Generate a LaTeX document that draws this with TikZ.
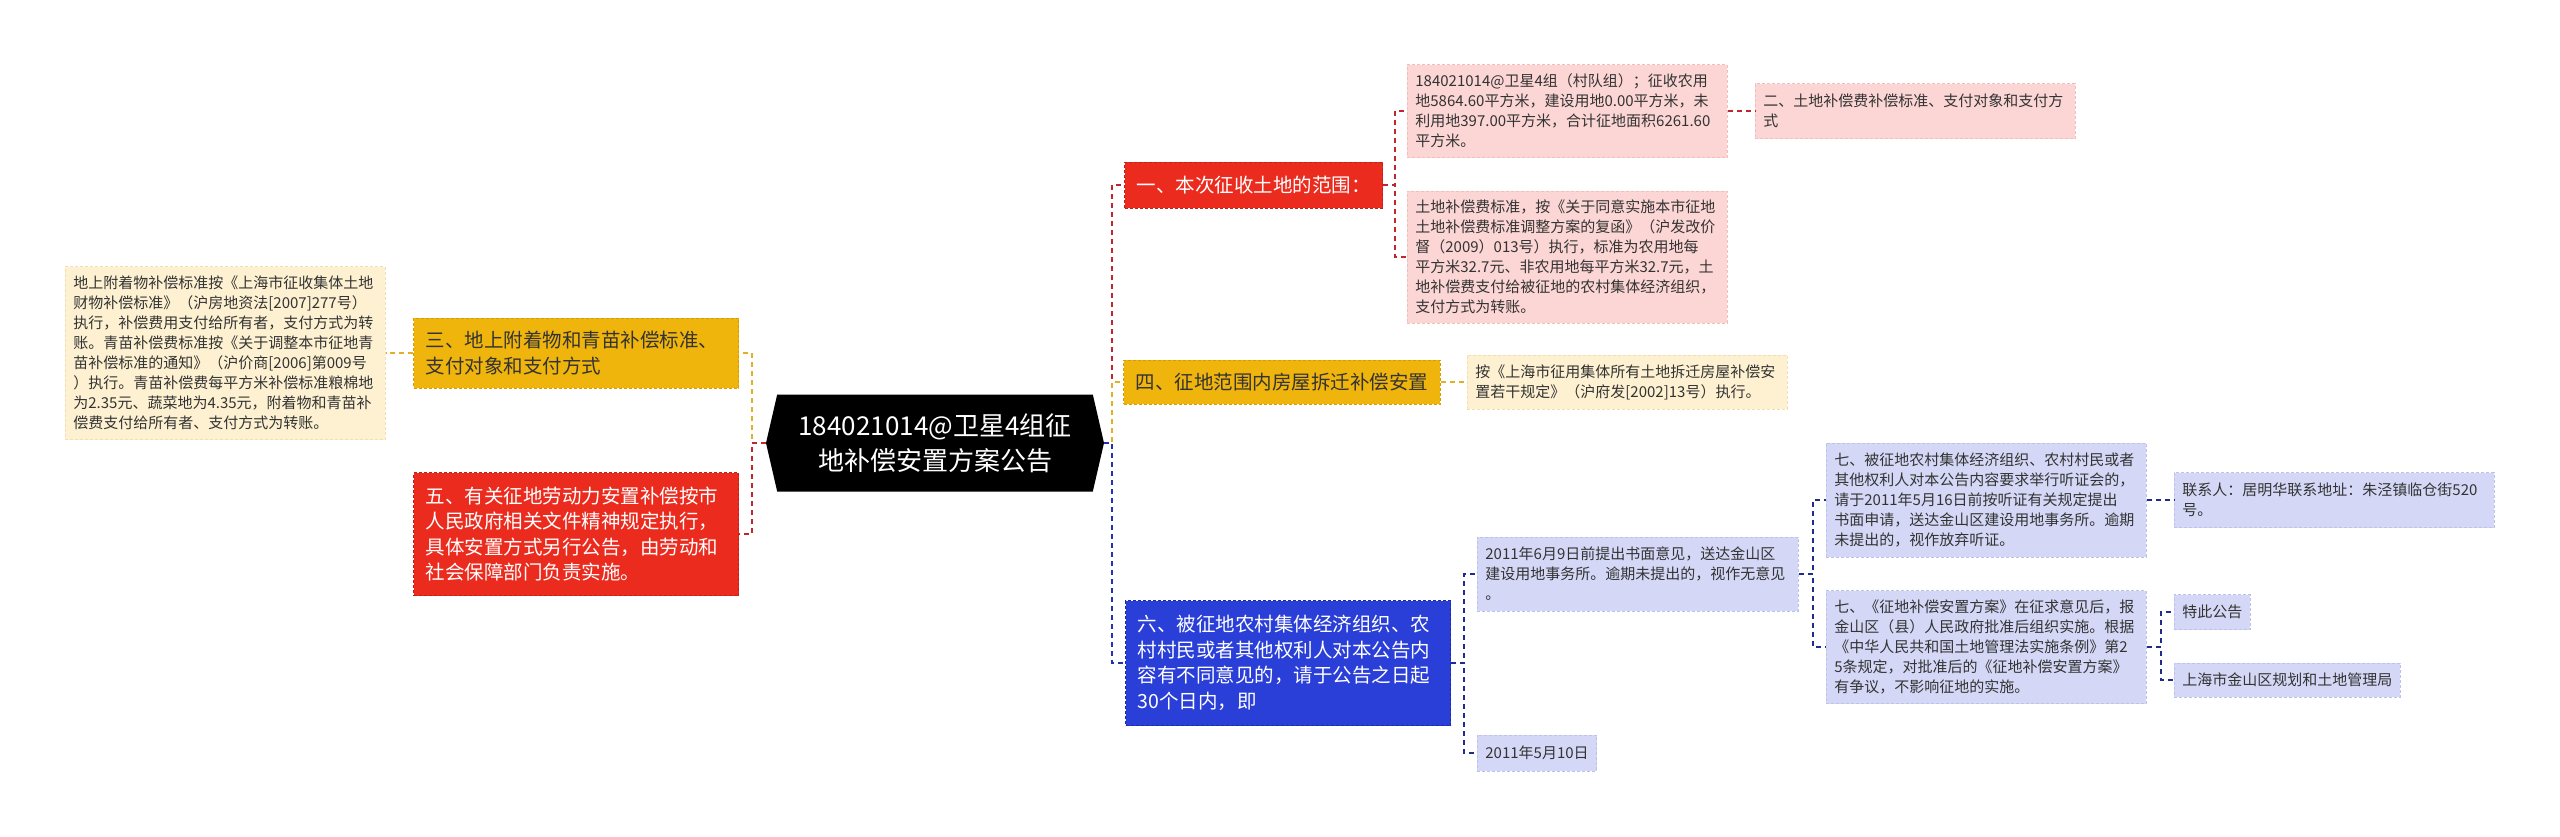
\documentclass[tikz,border=0pt]{standalone}
\usepackage{fontspec}
\setmainfont{Noto Sans CJK SC}
\usetikzlibrary{shapes.symbols}

\definecolor{redfill}{HTML}{EC2B1F}
\definecolor{rededge}{HTML}{C41E16}
\definecolor{redwire}{HTML}{BE272C}
\definecolor{yelfill}{HTML}{F0B50C}
\definecolor{yeledge}{HTML}{D49E00}
\definecolor{yelwire}{HTML}{E0B026}
\definecolor{bluefill}{HTML}{2A3ED8}
\definecolor{blueedge}{HTML}{1A2AA8}
\definecolor{navywire}{HTML}{1F2C8C}
\definecolor{pinkfill}{HTML}{FCD6D5}
\definecolor{pinkedge}{HTML}{F2BDBD}
\definecolor{creamfill}{HTML}{FDF1D2}
\definecolor{creamedge}{HTML}{F1DFB2}
\definecolor{lavfill}{HTML}{D4D8F6}
\definecolor{lavedge}{HTML}{BCC2EC}
\definecolor{leaftext}{HTML}{333333}

\begin{document}
\begin{tikzpicture}[x=1pt, y=-1pt,
    every node/.style={align=left, inner ysep=0pt},
    rootbox/.style={shape=signal, signal to=east and west, signal pointer angle=154,
        fill=black, text=white, align=center, minimum width=338pt, minimum height=97pt,
        font=\fontsize{26pt}{35pt}\selectfont},
    mainbox/.style={inner xsep=12pt, line width=1pt, dash pattern=on 3pt off 2pt,
        font=\fontsize{19.5pt}{25.5pt}\selectfont},
    mainred/.style={mainbox, fill=redfill, draw=rededge, text=white},
    mainyel/.style={mainbox, fill=yelfill, draw=yeledge, text=leaftext},
    mainblue/.style={mainbox, fill=bluefill, draw=blueedge, text=white},
    leaf/.style={inner xsep=8pt, line width=0.8pt, dash pattern=on 3pt off 2pt, text=leaftext,
        font=\fontsize{15pt}{20pt}\selectfont},
    leafpink/.style={leaf, fill=pinkfill, draw=pinkedge},
    leafcream/.style={leaf, fill=creamfill, draw=creamedge},
    leaflav/.style={leaf, fill=lavfill, draw=lavedge},
    wire/.style={line width=2pt, dash pattern=on 5pt off 4pt},
    redlink/.style={wire, draw=redwire},
    yellink/.style={wire, draw=yelwire},
    bluelink/.style={wire, draw=bluefill!80!black},
    navylink/.style={wire, draw=navywire}]
    \useasboundingbox (0,0) rectangle (2560,836);

    % Root
    \node[rootbox] (root) at (935,443) {184021014@卫星4组征\\地补偿安置方案公告};

    % Left branch
    \node[mainyel, anchor=west, text width=301pt, minimum height=70pt] (three) at (413,353)
        {三、地上附着物和青苗补偿标准、\\支付对象和支付方式};
    \node[mainred, anchor=west, text width=301pt, minimum height=123pt] (five) at (413,534)
        {五、有关征地劳动力安置补偿按市\\人民政府相关文件精神规定执行，\\具体安置方式另行公告，由劳动和\\社会保障部门负责实施。};
    \node[leafcream, anchor=west, text width=304pt, minimum height=173pt] (attach) at (65,353)
        {地上附着物补偿标准按《上海市征收集体土地\\财物补偿标准》（沪房地资法[2007]277号）\\执行，补偿费用支付给所有者，支付方式为转\\账。青苗补偿费标准按《关于调整本市征地青\\苗补偿标准的通知》（沪价商[2006]第009号\\）执行。青苗补偿费每平方米补偿标准粮棉地\\为2.35元、蔬菜地为4.35元，附着物和青苗补\\偿费支付给所有者、支付方式为转账。};

    % Right branch: section one
    \node[mainred, anchor=west, minimum height=46pt] (one) at (1124,185) {一、本次征收土地的范围：};
    \node[leafpink, anchor=west, text width=304pt, minimum height=93pt] (area) at (1407,111)
        {184021014@卫星4组（村队组）；征收农用\\地5864.60平方米，建设用地0.00平方米，未\\利用地397.00平方米，合计征地面积6261.60\\平方米。};
    \node[leafpink, anchor=west, text width=304pt, minimum height=55pt] (landstd) at (1755,111)
        {二、土地补偿费补偿标准、支付对象和支付方\\式};
    \node[leafpink, anchor=west, text width=304pt, minimum height=132pt] (landfee) at (1407,257)
        {土地补偿费标准，按《关于同意实施本市征地\\土地补偿费标准调整方案的复函》（沪发改价\\督（2009）013号）执行，标准为农用地每\\平方米32.7元、非农用地每平方米32.7元，土\\地补偿费支付给被征地的农村集体经济组织，\\支付方式为转账。};

    % Right branch: section four
    \node[mainyel, anchor=west, minimum height=44pt] (four) at (1123,382) {四、征地范围内房屋拆迁补偿安置};
    \node[leafcream, anchor=west, text width=304pt, minimum height=54pt] (house) at (1467,382)
        {按《上海市征用集体所有土地拆迁房屋补偿安\\置若干规定》（沪府发[2002]13号）执行。};

    % Right branch: section six
    \node[mainblue, anchor=west, text width=301pt, minimum height=125pt] (six) at (1125,663)
        {六、被征地农村集体经济组织、农\\村村民或者其他权利人对本公告内\\容有不同意见的，请于公告之日起\\30个日内，即};
    \node[leaflav, anchor=west, text width=305pt, minimum height=74pt] (deadline) at (1477,574)
        {2011年6月9日前提出书面意见，送达金山区\\建设用地事务所。逾期未提出的，视作无意见\\。};
    \node[leaflav, anchor=west, minimum height=36pt] (date) at (1477,753) {2011年5月10日};
    \node[leaflav, anchor=west, text width=304pt, minimum height=114pt] (hearing) at (1826,500)
        {七、被征地农村集体经济组织、农村村民或者\\其他权利人对本公告内容要求举行听证会的，\\请于2011年5月16日前按听证有关规定提出\\书面申请，送达金山区建设用地事务所。逾期\\未提出的，视作放弃听证。};
    \node[leaflav, anchor=west, text width=304pt, minimum height=113pt] (plan) at (1826,647)
        {七、《征地补偿安置方案》在征求意见后，报\\金山区（县）人民政府批准后组织实施。根据\\《中华人民共和国土地管理法实施条例》第2\\5条规定，对批准后的《征地补偿安置方案》\\有争议，不影响征地的实施。};
    \node[leaflav, anchor=west, text width=304pt, minimum height=55pt] (contact) at (2174,500)
        {联系人：居明华联系地址：朱泾镇临仓街520\\号。};
    \node[leaflav, anchor=west, minimum height=35pt] (notice) at (2174,612) {特此公告};
    \node[leaflav, anchor=west, minimum height=34pt] (bureau) at (2174,680) {上海市金山区规划和土地管理局};

    % Links
    \draw[yellink] (root.west) -- ++(-14,0) |- (three.east);
    \draw[redlink] (root.west) -- ++(-14,0) |- (five.east);
    \draw[yellink] (three.west) -- (attach.east);
    \draw[redlink] (root.east) -- ++(8,0) |- (one.west);
    \draw[yellink] (root.east) -- ++(8,0) |- (four.west);
    \draw[bluelink] (root.east) -- ++(8,0) |- (six.west);
    \draw[redlink] (one.east) -- ++(12,0) |- (area.west);
    \draw[redlink] (one.east) -- ++(12,0) |- (landfee.west);
    \draw[redlink] (area.east) -- (landstd.west);
    \draw[yellink] (four.east) -- (house.west);
    \draw[navylink] (six.east) -- ++(13,0) |- (deadline.west);
    \draw[navylink] (six.east) -- ++(13,0) |- (date.west);
    \draw[navylink] (deadline.east) -- ++(14,0) |- (hearing.west);
    \draw[navylink] (deadline.east) -- ++(14,0) |- (plan.west);
    \draw[navylink] (hearing.east) -- (contact.west);
    \draw[navylink] (plan.east) -- ++(14,0) |- (notice.west);
    \draw[navylink] (plan.east) -- ++(14,0) |- (bureau.west);
\end{tikzpicture}
\end{document}
